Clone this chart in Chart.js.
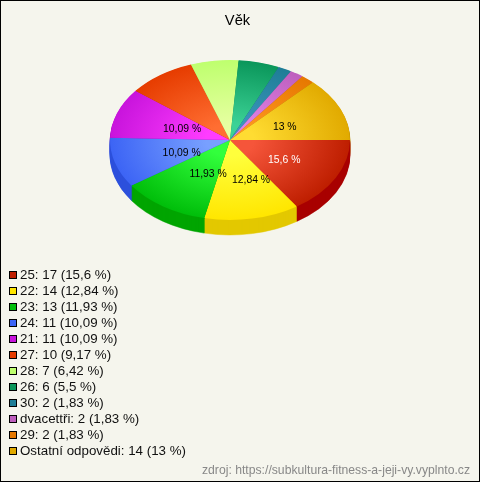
<!DOCTYPE html>
<html lang="cs">
<head>
<meta charset="utf-8">
<title>Věk</title>
<script src="https://cdn.jsdelivr.net/npm/chart.js@4"></script>
<style>
  html, body { margin: 0; padding: 0; background: #f5f5ed; }
  #frame { position: relative; width: 478px; height: 480px; border: 1px solid #000; overflow: hidden;
           background: #f5f5ed; font-family: "Liberation Sans", Arial, sans-serif; }
  #c { position: absolute; left: -1px; top: -1px; }
  #legend { position: absolute; left: 8px; top: 266px; margin: 0; padding: 0; list-style: none;
            font-size: 13.33px; line-height: 16px; color: #111; }
  #legend li { display: flex; align-items: center; height: 16px; white-space: pre; }
  #legend i { display: block; box-sizing: border-box; width: 8px; height: 8px; border: 1px solid #000; margin-right: 3px; }
  #source { position: absolute; right: 9px; top: 462px; font-size: 12.2px; line-height: 14px; color: #888; white-space: pre; }
</style>
</head>
<body>
<div id="frame">
  <canvas id="c" width="480" height="482"></canvas>
  <ul id="legend"></ul>
  <div id="source"></div>
</div>
<script>
const titleText = 'Věk';
const sourceText = 'zdroj: https://subkultura-fitness-a-jeji-vy.vyplnto.cz';
const categories = ['25', '22', '23', '24', '21', '27', '28', '26', '30', 'dvacettři', '29', 'Ostatní odpovědi'];
const counts = [17, 14, 13, 11, 11, 10, 7, 6, 2, 2, 2, 14];
const percentLabels = ['15,6', '12,84', '11,93', '10,09', '10,09', '9,17', '6,42', '5,5', '1,83', '1,83', '1,83', '13'];
const sliceLabelsShown = [true, true, true, true, true, false, false, false, false, false, false, true];
const sliceLabelColors = ['#fff', '#000', '#000', '#000', '#000', '#000', '#000', '#000', '#000', '#000', '#000', '#000'];

const innerColors = ['#f5553a', '#ffff3c', '#32ff3c', '#78a0ff', '#ff3cff', '#ff6e32', '#e6ffa0', '#3cd296', '#3c96be', '#e182e6', '#ff9620', '#ffdc32'];
const outerColors = ['#be1e00', '#ffe600', '#00be0a', '#3c64f5', '#c814dc', '#e63c00', '#beff6e', '#0a965a', '#1e7d96', '#be5fbe', '#e67800', '#e1aa00'];
const sideColors  = ['#a80000', '#e3c800', '#00a500', '#2d50dc', '#a000b4', '#b43000', '#96d050', '#087848', '#186478', '#964b96', '#b46000', '#b48800'];

const FACE_CENTER_Y = 140, SQUASH = 2 / 3, DEPTH = 15, TITLE_SHIFT = 7.5;

function squash(ctx, cy, dy) {
  ctx.translate(0, FACE_CENTER_Y + dy);
  ctx.scale(1, SQUASH);
  ctx.translate(0, -cy);
}

const pie3d = {
  id: 'pie3d',
  afterLayout(chart) {
    if (chart.titleBlock) {
      chart.titleBlock.left += TITLE_SHIFT;
      chart.titleBlock.right += TITLE_SHIFT;
    }
  },
  beforeDatasetsDraw(chart) {
    const ctx = chart.ctx, arcs = chart.getDatasetMeta(0).data;
    const cy = arcs[0].y;
    for (let d = DEPTH; d >= 1; d--) {
      ctx.save();
      squash(ctx, cy, d);
      arcs.forEach((arc, i) => {
        const side = Object.create(arc);
        side.options = Object.assign({}, arc.options, { backgroundColor: sideColors[i], borderColor: sideColors[i], borderWidth: 0.6 });
        side.draw(ctx);
      });
      ctx.restore();
    }
    ctx.save();
    squash(ctx, cy, 0);
  },
  afterDatasetsDraw(chart) {
    const ctx = chart.ctx, arcs = chart.getDatasetMeta(0).data;
    ctx.restore();
    ctx.save();
    ctx.font = '10.4px "Liberation Sans", Arial, sans-serif';
    ctx.textAlign = 'center';
    ctx.textBaseline = 'middle';
    arcs.forEach((arc, i) => {
      if (!sliceLabelsShown[i]) return;
      const mid = (arc.startAngle + arc.endAngle) / 2;
      const s = Math.sin(mid), lower = Math.max(0, s);
      const x = arc.x + Math.cos(mid) * arc.outerRadius * 0.46 + 4 + 7 * lower * lower;
      const y = FACE_CENTER_Y + s * arc.outerRadius * 0.46 * SQUASH + 2.5 + 1.5 * s;
      ctx.fillStyle = sliceLabelColors[i];
      ctx.fillText(percentLabels[i] + ' %', x, y);
    });
    ctx.restore();
  }
};

function sliceFill(context) {
  const area = context.chart.chartArea;
  const i = context.dataIndex;
  if (!area || i === undefined) return outerColors[i] || '#000';
  const x = (area.left + area.right) / 2, y = (area.top + area.bottom) / 2;
  const r = Math.min(area.right - area.left, area.bottom - area.top) / 2;
  const g = context.chart.ctx.createRadialGradient(x, y, 0, x, y, r);
  g.addColorStop(0.2, innerColors[i]);
  g.addColorStop(1, outerColors[i]);
  return g;
}

new Chart(document.getElementById('c'), {
  type: 'pie',
  data: {
    labels: categories,
    datasets: [{ data: counts, backgroundColor: sliceFill, borderColor: sliceFill, borderWidth: 0 }]
  },
  options: {
    responsive: false,
    animation: false,
    rotation: 90,
    layout: { padding: { left: 110, right: 130, top: 0, bottom: 202 } },
    plugins: {
      legend: { display: false },
      tooltip: { enabled: false },
      title: {
        display: true,
        text: titleText,
        color: '#000',
        font: { family: '"Liberation Sans", Arial, sans-serif', size: 14.67, weight: 'normal' },
        padding: { top: 12.5, bottom: 10 }
      }
    }
  },
  plugins: [pie3d]
});

const legendEl = document.getElementById('legend');
categories.forEach((name, i) => {
  const li = document.createElement('li');
  const box = document.createElement('i');
  box.style.background = outerColors[i];
  li.appendChild(box);
  li.appendChild(document.createTextNode(`${name}: ${counts[i]} (${percentLabels[i]} %)`));
  legendEl.appendChild(li);
});
document.getElementById('source').textContent = sourceText;
</script>
</body>
</html>
